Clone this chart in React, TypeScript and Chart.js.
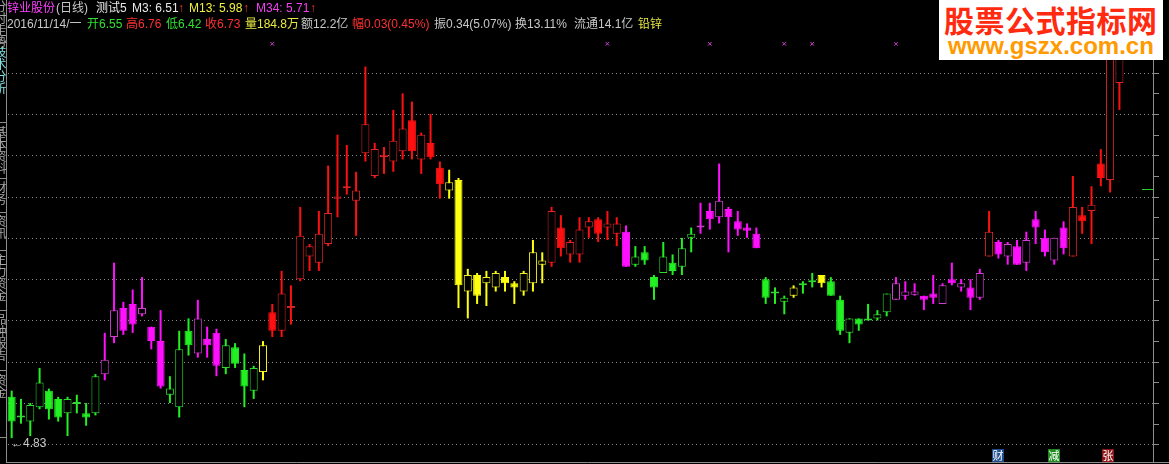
import React, { useEffect, useRef } from "react";
import { Chart, registerables } from "chart.js";

Chart.register(...registerables);

// ---- data (daily candles) ----
const opens = [
  5.03, 4.93, 4.91, 4.98, 5.06, 5.02, 4.95, 4.995, 4.95, 4.95,
  5.14, 5.32, 5.46, 5.48, 5.43, 5.37, 5.30, 5.04, 4.98, 5.35,
  5.24, 5.31, 5.34, 5.17, 5.27, 5.16, 5.06, 5.15, 5.44, 5.35,
  5.46, 5.60, 5.71, 5.68, 5.77, 5.99, 6.04, 5.98, 6.21, 6.10,
  6.19, 6.17, 6.22, 6.37, 6.18, 6.26, 6.14, 6.03, 6.08, 5.54,
  5.62, 5.58, 5.56, 5.61, 5.58, 5.54, 5.58, 5.67, 5.68, 5.85,
  5.72, 5.72, 5.85, 5.89, 5.85, 5.82, 5.83, 5.67, 5.73, 5.61,
  5.63, 5.68, 5.66, 5.80, 5.85, 5.93, 5.90, 5.94, 5.88, 5.85,
  5.82, 5.60, 5.53, 5.49, 5.52, 5.57, 5.585, 5.62, 5.59, 5.50,
  5.34, 5.41, 5.40, 5.41, 5.44, 5.50, 5.52, 5.525, 5.52, 5.53,
  5.48, 5.60, 5.56, 5.56, 5.51, 5.71, 5.78, 5.71, 5.76, 5.68,
  5.89, 5.80, 5.69, 5.85, 5.71, 5.91, 5.93, 6.16, 6.08, 6.55,
];
const highs = [
  5.06, 5.02, 5.00, 5.17, 5.07, 5.03, 5.03, 5.04, 5.00, 5.14,
  5.34, 5.68, 5.49, 5.55, 5.61, 5.37, 5.45, 5.13, 5.35, 5.41,
  5.50, 5.37, 5.36, 5.31, 5.29, 5.24, 5.18, 5.30, 5.48, 5.64,
  5.57, 5.95, 5.77, 5.93, 6.15, 6.30, 6.25, 6.12, 6.63, 6.26,
  6.24, 6.42, 6.50, 6.46, 6.31, 6.40, 6.17, 6.13, 6.09, 5.65,
  5.63, 5.64, 5.64, 5.64, 5.59, 5.64, 5.79, 5.73, 5.95, 5.91,
  5.79, 5.90, 5.90, 5.90, 5.93, 5.90, 5.86, 5.76, 5.76, 5.62,
  5.78, 5.72, 5.80, 5.85, 5.97, 5.97, 6.16, 5.95, 5.93, 5.87,
  5.85, 5.61, 5.56, 5.52, 5.57, 5.59, 5.63, 5.62, 5.61, 5.52,
  5.41, 5.41, 5.48, 5.45, 5.53, 5.61, 5.59, 5.58, 5.52, 5.62,
  5.58, 5.68, 5.60, 5.60, 5.65, 5.93, 5.79, 5.78, 5.79, 5.83,
  5.93, 5.84, 5.80, 5.88, 6.10, 5.95, 6.05, 6.23, 6.70, 6.76,
];
const lows = [
  4.83, 4.90, 4.84, 4.97, 4.92, 4.91, 4.84, 4.95, 4.89, 4.94,
  5.11, 5.29, 5.33, 5.34, 5.42, 5.26, 5.07, 5.00, 4.93, 5.23,
  5.22, 5.22, 5.13, 5.14, 5.17, 4.98, 5.02, 5.11, 5.32, 5.32,
  5.38, 5.59, 5.64, 5.64, 5.76, 5.90, 6.01, 5.81, 6.17, 6.09,
  6.11, 6.12, 6.18, 6.18, 6.11, 6.18, 5.99, 5.99, 5.46, 5.41,
  5.48, 5.47, 5.54, 5.54, 5.48, 5.52, 5.54, 5.58, 5.66, 5.71,
  5.68, 5.68, 5.80, 5.78, 5.79, 5.76, 5.66, 5.66, 5.67, 5.50,
  5.63, 5.62, 5.62, 5.73, 5.82, 5.84, 5.87, 5.73, 5.81, 5.80,
  5.75, 5.48, 5.48, 5.43, 5.51, 5.53, 5.56, 5.56, 5.52, 5.33,
  5.29, 5.35, 5.40, 5.40, 5.42, 5.50, 5.50, 5.52, 5.45, 5.48,
  5.48, 5.57, 5.54, 5.45, 5.50, 5.71, 5.70, 5.67, 5.67, 5.64,
  5.77, 5.71, 5.67, 5.72, 5.71, 5.82, 5.77, 6.05, 6.02, 6.42,
];
const closes = [
  4.91, 4.94, 4.99, 5.10, 4.97, 4.93, 5.02, 5.00, 4.93, 5.13,
  5.21, 5.45, 5.35, 5.38, 5.46, 5.30, 5.08, 5.07, 5.26, 5.28,
  5.41, 5.28, 5.18, 5.28, 5.19, 5.08, 5.17, 5.28, 5.35, 5.53,
  5.47, 5.81, 5.76, 5.82, 5.92, 6.00, 6.05, 6.03, 6.35, 6.23,
  6.20, 6.27, 6.33, 6.22, 6.30, 6.19, 6.06, 6.07, 5.57, 5.62,
  5.52, 5.61, 5.63, 5.58, 5.56, 5.63, 5.73, 5.69, 5.93, 5.75,
  5.78, 5.84, 5.88, 5.82, 5.87, 5.87, 5.66, 5.71, 5.69, 5.56,
  5.71, 5.64, 5.75, 5.82, 5.86, 5.89, 5.98, 5.90, 5.84, 5.835,
  5.75, 5.51, 5.535, 5.51, 5.56, 5.575, 5.59, 5.58, 5.52, 5.35,
  5.41, 5.38, 5.41, 5.43, 5.53, 5.58, 5.54, 5.54, 5.50, 5.51,
  5.57, 5.58, 5.58, 5.51, 5.63, 5.83, 5.72, 5.77, 5.67, 5.79,
  5.85, 5.73, 5.80, 5.75, 5.95, 5.88, 5.96, 6.09, 6.70, 6.73,
];
// indicator state of each candle: g = green, m = magenta, y = yellow, r = red
const tones = (
  "gggggggggg" + "mmmmmmm" + "ggg" + "mmm" + "gggg" + "y" +
  "rrrrrrrrrrrrrrrrrrr" + "yyyyyyyyyyy" + "rrrrrrrr" + "m" + "ggggggg" +
  "mmmmmmm" + "ggg" + "y" + "gg" + "y" + "ggggggg" + "mmmmmmmmmm" + "r" +
  "mmmmmmmm" + "rrrrrr"
).split("");

const markerIndexes = [28, 64, 75, 83, 86, 95];
const markerLevel = 6.74;
const gridPrices = [4.8, 5.0, 5.2, 5.4, 5.6, 5.8, 6.0, 6.2, 6.4, 6.6];
const axisTickPrices = [4.8, 4.9, 5.0, 5.1, 5.2, 5.3, 5.4, 5.5, 5.6, 5.7, 5.8, 5.9, 6.0, 6.1, 6.2, 6.3, 6.4, 6.5, 6.6, 6.7, 6.8, 6.9];
const lastPriceMark = 6.037;
const lowestLabel = 4.83;
const maValues = [
  { name: "M3", value: 6.51, color: "#E8E8E8" },
  { name: "M13", value: 5.98, color: "#F0F040" },
  { name: "M34", value: 5.71, color: "#F040F0" },
];
const emptySlots = 3;
const yMin = 4.7289;
const yMax = 6.928;

const fillColors: Record<string, string> = { g: "#22F022", m: "#FF10FF", y: "#FFFF10", r: "#FF1010" };
const edgeColors: Record<string, string> = { g: "#30D830", m: "#D040D0", y: "#F0F020", r: "#E02424" };

const uiFont = '"Liberation Sans", "Noto Sans CJK SC", sans-serif';

export default function App() {
  const ref = useRef<HTMLCanvasElement | null>(null);

  useEffect(() => {
    const n = opens.length;
    const labels = Array.from({ length: n + emptySlots }, (_, i) => String(i));
    const wick = labels.map((_, i) => (i < n ? [lows[i], highs[i]] : null));
    const body = labels.map((_, i) =>
      i < n ? [Math.min(opens[i], closes[i]), Math.max(opens[i], closes[i])] : null
    );
    const hollow = (i: number) => i < n && closes[i] > opens[i];
    const wickColor = labels.map((_, i) => (i < n ? fillColors[tones[i]] : "#000"));
    const bodyFill = labels.map((_, i) => (i < n ? (hollow(i) ? "#000000" : fillColors[tones[i]]) : "#000"));
    const bodyEdge = labels.map((_, i) => (i < n ? (hollow(i) ? edgeColors[tones[i]] : fillColors[tones[i]]) : "#000"));
    const markers = labels.map((_, i) => (markerIndexes.includes(i) ? markerLevel : null));

    const frame = {
      id: "frame",
      beforeDatasetsDraw(chart: any) {
        const { ctx, chartArea, scales } = chart;
        const y = scales.y;
        ctx.save();
        ctx.strokeStyle = "#8a8a8a";
        ctx.lineWidth = 1;
        ctx.setLineDash([1, 3]);
        gridPrices.forEach((p) => {
          const py = Math.round(y.getPixelForValue(p)) + 0.5;
          ctx.beginPath();
          ctx.moveTo(chartArea.left + 1, py);
          ctx.lineTo(chartArea.right + 1, py);
          ctx.stroke();
        });
        ctx.restore();
      },
      afterDraw(chart: any) {
        const { ctx, scales } = chart;
        const y = scales.y;
        ctx.save();
        ctx.strokeStyle = "#8c8c8c";
        ctx.lineWidth = 1;
        ctx.beginPath();
        ctx.moveTo(6.5, 0);
        ctx.lineTo(6.5, 462);
        ctx.moveTo(1153.5, 0);
        ctx.lineTo(1153.5, 462);
        ctx.moveTo(6, 462.5);
        ctx.lineTo(1169, 462.5);
        axisTickPrices.forEach((p) => {
          const py = Math.round(y.getPixelForValue(p)) + 0.5;
          ctx.moveTo(1154, py);
          ctx.lineTo(1159, py);
        });
        ctx.stroke();
        const gy = Math.round(y.getPixelForValue(lastPriceMark)) + 0.5;
        ctx.strokeStyle = "#22D022";
        ctx.beginPath();
        ctx.moveTo(1142, gy);
        ctx.lineTo(1153, gy);
        ctx.stroke();
        ctx.restore();
      },
    };

    const chart = new Chart(ref.current as HTMLCanvasElement, {
      type: "bar",
      data: {
        labels,
        datasets: [
          {
            type: "bar",
            data: wick as any,
            backgroundColor: wickColor,
            borderWidth: 0,
            barThickness: 2,
            grouped: false,
            order: 3,
            inflateAmount: 0,
          } as any,
          {
            type: "bar",
            data: body as any,
            backgroundColor: bodyFill,
            borderColor: bodyEdge,
            borderWidth: 1,
            borderSkipped: false,
            barThickness: 8,
            grouped: false,
            order: 2,
            minBarLength: 2,
            inflateAmount: 0,
          } as any,
          {
            type: "line",
            data: markers as any,
            showLine: false,
            pointStyle: "crossRot",
            pointRadius: 2.5,
            borderColor: "#D040D0",
            borderWidth: 1,
            order: 1,
          } as any,
        ],
      },
      options: {
        responsive: false,
        animation: false,
        devicePixelRatio: 1,
        events: [],
        layout: { padding: { left: 7, right: 17, top: 0, bottom: 0 } },
        plugins: { legend: { display: false }, tooltip: { enabled: false } },
        scales: {
          x: { display: false, offset: true, grid: { display: false } },
          y: { display: false, min: yMin, max: yMax },
        },
      },
      plugins: [frame],
    });
    return () => chart.destroy();
  }, []);

  const last = opens.length - 1;
  const prevClose = closes[last - 1];
  const change = closes[last] - prevClose;
  const line1 = [
    { t: "锌业股份", x: 7, c: "#FF40FF" },
    { t: "(日线)", x: 56, c: "#C8C8C8" },
    { t: "测试5", x: 96, c: "#E8E8E8" },
    { t: `${maValues[0].name}: ${maValues[0].value.toFixed(2)}`, x: 132, c: maValues[0].color },
    { t: "↑", x: 178, c: "#FF3030" },
    { t: `${maValues[1].name}: ${maValues[1].value.toFixed(2)}`, x: 189, c: maValues[1].color },
    { t: "↑", x: 243, c: "#FF3030" },
    { t: `${maValues[2].name}: ${maValues[2].value.toFixed(2)}`, x: 256, c: maValues[2].color },
    { t: "↑", x: 310, c: "#FF3030" },
  ];
  const line2 = [
    { t: "2016/11/14/一", x: 7, c: "#C8C8C8" },
    { t: `开${opens[last].toFixed(2)}`, x: 87, c: "#30E030" },
    { t: `高${highs[last].toFixed(2)}`, x: 126, c: "#FF3030" },
    { t: `低${lows[last].toFixed(2)}`, x: 166, c: "#30E030" },
    { t: `收${closes[last].toFixed(2)}`, x: 205, c: "#FF3030" },
    { t: "量184.8万", x: 245, c: "#E8E840" },
    { t: "额12.2亿", x: 301, c: "#C8C8C8" },
    { t: `幅${change.toFixed(2)}(${((change / prevClose) * 100).toFixed(2)}%)`, x: 352, c: "#FF3030" },
    { t: "振0.34(5.07%)", x: 434, c: "#C8C8C8" },
    { t: "换13.11%", x: 515, c: "#C8C8C8" },
    { t: "流通14.1亿", x: 574, c: "#C8C8C8" },
    { t: "铅锌", x: 638, c: "#E8E840" },
  ];
  const tabs = [
    { t: "分时走势", top: 0, c: "#A8A8A8" },
    { t: "技术分析", top: 46, c: "#80E0E0" },
    { t: "基本资料", top: 126, c: "#A8A8A8" },
    { t: "财务", top: 181, c: "#A8A8A8" },
    { t: "资讯", top: 215, c: "#A8A8A8" },
    { t: "主力资金", top: 253, c: "#A8A8A8" },
    { t: "品种报告", top: 313, c: "#A8A8A8" },
    { t: "资金", top: 374, c: "#A8A8A8" },
  ];
  const tabSeps = [42, 122, 178, 212, 250, 310, 370, 437];
  const tags = [
    { t: "财", x: 992, bg: "#1F4C8C" },
    { t: "减", x: 1048, bg: "#1E8A1E" },
    { t: "张", x: 1102, bg: "#8C1414" },
  ];

  const textBase: React.CSSProperties = {
    position: "absolute",
    fontFamily: uiFont,
    fontSize: 12,
    lineHeight: "12px",
    whiteSpace: "nowrap",
  };

  return (
    <div
      style={{
        position: "fixed",
        left: 0,
        top: 0,
        width: 1169,
        height: 464,
        background: "#000",
        overflow: "hidden",
      }}
    >
      <canvas ref={ref} width={1169} height={464} style={{ position: "absolute", left: 0, top: 0, width: 1169, height: 464 }} />
      {line1.map((s, i) => (
        <span key={"a" + i} style={{ ...textBase, left: s.x, top: 2, color: s.c }}>
          {s.t}
        </span>
      ))}
      {line2.map((s, i) => (
        <span key={"b" + i} style={{ ...textBase, left: s.x, top: 18, color: s.c }}>
          {s.t}
        </span>
      ))}
      <span style={{ ...textBase, left: 11, top: 437, fontSize: 12, color: "#C8C8C8" }}>
        {"←" + lowestLabel.toFixed(2)}
      </span>
      <div style={{ position: "absolute", left: 0, top: 0, width: 6, height: 462, overflow: "hidden" }}>
        {tabs.map((s, i) => (
          <span
            key={"t" + i}
            style={{
              position: "absolute",
              left: -6,
              top: s.top,
              writingMode: "vertical-rl",
              fontFamily: '"Noto Sans CJK SC", sans-serif',
              fontSize: 12,
              lineHeight: "12px",
              color: s.c,
            }}
          >
            {s.t}
          </span>
        ))}
        {tabSeps.map((y, i) => (
          <div key={"s" + i} style={{ position: "absolute", left: 0, top: y, width: 6, height: 1, background: "#8c8c8c" }} />
        ))}
      </div>
      {tags.map((s, i) => (
        <span
          key={"g" + i}
          style={{
            position: "absolute",
            left: s.x,
            top: 449,
            width: 12,
            height: 13,
            background: s.bg,
            color: "#FFFFFF",
            fontFamily: '"Noto Sans CJK SC", sans-serif',
            fontSize: 11,
            lineHeight: "13px",
            textAlign: "center",
          }}
        >
          {s.t}
        </span>
      ))}
      <div
        style={{
          position: "absolute",
          left: 939,
          top: 0,
          width: 224,
          height: 60,
          background: "#FFFFFF",
        }}
      >
        <div
          style={{
            position: "absolute",
            left: 5,
            top: 1,
            fontFamily: '"Noto Sans CJK SC", sans-serif',
            fontWeight: 700,
            fontSize: 30,
            lineHeight: "36px",
            color: "#FF2A10",
            whiteSpace: "nowrap",
            letterSpacing: 0.5,
          }}
        >
          股票公式指标网
        </div>
        <div
          style={{
            position: "absolute",
            left: 9,
            top: 34,
            fontFamily: '"Liberation Sans", Arial, sans-serif',
            fontWeight: 700,
            fontSize: 24,
            lineHeight: "24px",
            color: "#FF9A00",
            whiteSpace: "nowrap",
          }}
        >
          www.gszx.com.cn
        </div>
      </div>
    </div>
  );
}
